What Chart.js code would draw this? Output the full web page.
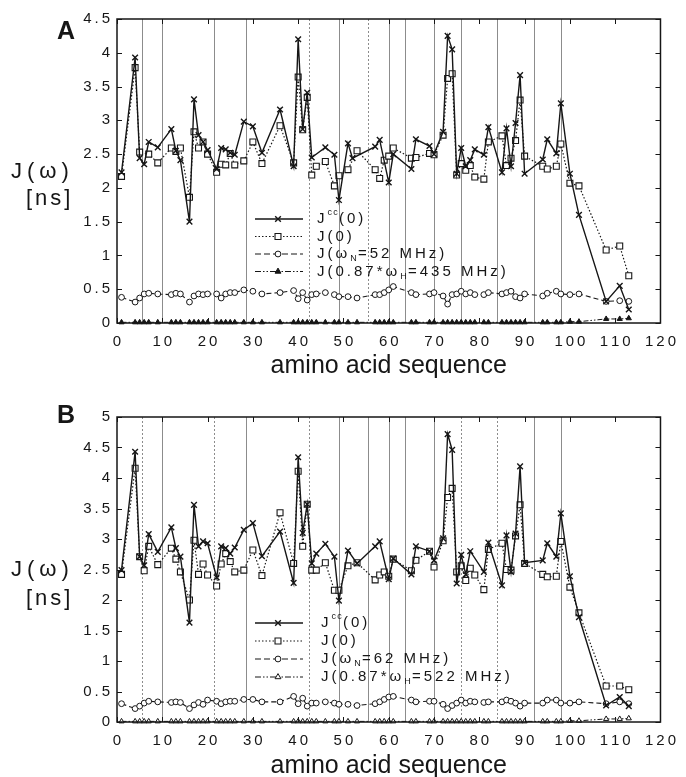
<!DOCTYPE html>
<html><head><meta charset="utf-8">
<script src="https://cdn.jsdelivr.net/npm/chart.js@4/dist/chart.umd.min.js"></script>
<style>
html,body{margin:0;padding:0;background:#fff;}
#wrap{position:relative;width:686px;height:777px;overflow:hidden;}
#pa{position:absolute;left:0;top:0;width:686px;height:390px;}
#pb{position:absolute;left:0;top:390px;width:686px;height:395px;}
</style></head><body>
<div id="wrap"><div id="pa"><canvas id="ca"></canvas></div><div id="pb"><canvas id="cb"></canvas></div></div>
<script>
// ---------- DATA ----------
const xTickValues = [0,10,20,30,40,50,60,70,80,90,100,110,120];
const yTicksA = [0,0.5,1,1.5,2,2.5,3,3.5,4,4.5];
const yTicksB = [0,0.5,1,1.5,2,2.5,3,3.5,4,4.5,5];

const residuesA = [1,4,5,6,7,9,12,13,14,16,
  17,18,19,20,22,23,24,25,26,28,
  30,32,36,39,40,41,42,43,44,46,
  48,49,51,52,53,57,58,59,60,61,
  65,66,69,70,72,73,74,75,76,77,
  78,79,81,82,85,86,87,88,89,90,
  94,95,97,98,100,102,108,111,113];
const jccA = [2.23,3.93,2.44,2.35,2.68,2.60,2.87,2.55,2.41,1.50,
  3.31,2.78,2.68,2.56,2.28,2.59,2.57,2.52,2.49,2.98,
  2.91,2.52,3.16,2.32,4.20,2.87,3.41,2.45,null,2.60,
  2.49,1.82,2.66,2.44,null,2.61,2.71,null,2.08,2.50,
  2.28,2.72,2.62,2.50,2.83,4.25,4.05,2.21,2.59,2.32,
  2.41,2.57,2.49,2.90,2.23,2.88,2.32,2.96,3.67,2.21,
  2.42,2.72,2.51,3.25,2.21,1.60,0.32,0.55,0.20];
const j0A = [2.17,3.78,2.53,null,2.50,2.37,2.59,2.54,2.59,1.86,
  2.83,2.59,2.68,2.50,2.23,2.35,2.34,2.51,2.34,2.40,
  2.68,2.36,2.92,2.37,3.64,2.86,3.34,2.19,2.32,2.39,
  2.03,2.18,2.27,null,2.55,2.27,2.14,2.41,2.47,2.59,
  2.44,2.45,2.51,2.49,2.78,3.62,3.69,2.19,2.36,2.26,
  2.33,2.16,2.13,2.68,2.77,2.33,2.44,2.70,3.30,2.47,
  2.32,2.28,2.32,2.65,2.07,2.03,1.08,1.14,0.70];
const jNA = [0.38,0.31,0.37,0.43,0.44,0.43,0.42,0.44,0.43,0.31,
  0.40,0.43,0.42,0.43,0.43,0.37,0.43,0.45,0.45,0.49,
  0.47,0.43,0.45,0.48,0.36,0.45,0.34,0.42,0.43,0.45,
  0.42,0.39,0.39,null,0.37,0.42,0.42,0.45,0.49,0.54,
  0.45,0.42,0.43,0.45,0.40,0.28,0.42,0.43,0.47,0.43,
  0.45,0.42,0.42,0.45,0.43,0.45,0.47,0.39,0.37,0.43,
  0.40,0.44,0.47,0.43,0.42,0.43,0.32,0.33,0.32];
const jHA = [0.01,0.01,0.01,0.01,0.01,0.01,0.01,0.01,0.01,0.01,
  0.01,0.01,0.01,0.01,0.01,0.01,0.01,0.01,0.01,0.01,
  0.01,0.01,0.01,0.01,0.01,0.01,0.01,0.01,0.01,0.01,
  0.01,0.01,0.01,null,0.01,0.01,0.01,0.01,0.01,0.01,
  0.01,0.01,0.01,0.01,0.01,0.01,0.01,0.01,0.01,0.01,
  0.01,0.01,0.01,0.01,0.01,0.01,0.01,0.01,0.01,0.01,
  0.01,0.01,0.01,0.01,0.02,0.02,0.06,0.06,0.07];

const residuesB = [1,4,5,6,7,9,12,13,14,16,
  17,18,19,20,22,23,24,25,26,28,
  30,32,36,39,40,41,42,43,44,46,
  48,49,51,53,57,58,59,60,61,65,
  66,69,70,72,73,74,75,76,77,78,
  79,81,82,85,86,87,88,89,90,94,
  95,97,98,100,102,108,111,113];
const jccB = [2.49,4.43,2.71,2.57,3.08,2.79,3.19,2.85,2.71,1.63,
  3.56,2.88,2.96,2.93,2.37,2.88,2.85,2.76,2.86,3.15,
  3.26,2.72,3.12,2.28,4.34,3.10,3.57,2.60,2.76,2.92,
  2.71,1.99,2.81,2.60,2.88,2.96,null,2.34,2.68,2.42,
  2.88,2.80,2.65,3.01,4.72,4.46,2.27,2.74,2.42,2.80,
  null,2.46,2.94,2.24,3.06,2.46,3.09,4.19,2.61,2.65,
  2.93,2.71,3.42,2.39,1.72,0.27,0.41,0.26];
const j0B = [2.42,4.16,2.71,2.48,2.88,2.58,2.85,2.67,2.46,2.00,
  2.98,2.42,2.59,2.41,2.23,2.59,2.76,2.63,2.46,2.49,
  2.82,2.40,3.43,2.60,4.11,2.88,3.57,2.49,2.49,2.61,
  2.16,2.16,2.56,2.61,2.33,2.41,2.46,2.39,2.67,2.48,
  2.65,2.80,2.54,2.97,3.68,3.83,2.46,2.56,2.32,2.52,
  2.41,2.17,2.83,2.93,2.50,2.49,3.05,3.56,2.60,2.42,
  2.38,2.39,2.96,2.21,1.79,0.59,0.59,0.53];
const jNB = [0.30,0.22,0.26,0.31,0.34,0.33,0.32,0.33,0.32,0.22,
  0.28,0.32,0.29,0.36,0.34,0.30,0.33,0.34,0.34,0.37,
  0.37,0.33,0.33,0.42,0.30,0.39,0.26,0.31,0.31,0.33,
  0.31,0.29,0.29,0.27,0.30,0.33,0.37,0.41,0.42,0.36,
  0.33,0.34,0.34,0.29,0.22,0.27,0.31,0.36,0.31,0.34,
  0.33,0.32,0.33,0.33,0.36,0.34,0.31,0.26,0.31,0.31,
  0.36,0.36,0.31,0.31,0.33,0.30,0.33,0.30];
const jHB = [0.01,0.01,0.01,0.01,0.01,0.01,0.01,0.01,0.01,0.01,
  0.01,0.01,0.01,0.01,0.01,0.01,0.01,0.01,0.01,0.01,
  0.01,0.01,0.01,0.01,0.01,0.01,0.01,0.01,0.01,0.01,
  0.01,0.01,0.01,0.01,0.01,0.01,0.01,0.01,0.01,0.01,
  0.01,0.01,0.01,0.01,0.01,0.01,0.01,0.01,0.01,0.01,
  0.01,0.01,0.01,0.01,0.01,0.01,0.01,0.01,0.01,0.01,
  0.01,0.01,0.01,0.02,0.02,0.05,0.05,0.06];

// secondary-structure boundary residues (vertical lines)
const structA = [5.5,10,21.5,28.5,42.5,49,55.5,60,63.5,70,76,84,92,98];
const dottedA = [42.5,55.5];
const structB = [5.5,10,21.5,28.5,42.5,49,55.5,60,63.5,70,76,84,92,98];
const dottedB = [5.5,21.5,42.5,76,84];

// ---------- RENDERING ----------
const FONT = '"Liberation Sans", Arial, Helvetica, sans-serif';
const INK = '#161616';
const spaced = v => String(v).split('').join('\u2009');

function drawSpaced(ctx, segs, x, y, size, spacing) {
  let cx = x;
  ctx.textBaseline = 'middle';
  ctx.textAlign = 'left';
  segs.forEach(seg => {
    const small = seg.sub || seg.sup;
    const fs = small ? Math.round(size * 0.6) : size;
    const dy = seg.sub ? size * 0.33 : seg.sup ? -size * 0.4 : 0;
    ctx.font = fs + 'px ' + FONT;
    for (const ch of seg.t) {
      ctx.fillText(ch, cx, y + dy);
      cx += ctx.measureText(ch).width + (small ? spacing * 0.4 : spacing);
    }
  });
}

const decor = {
  id: 'decor',
  beforeDatasetsDraw(chart, args, o) {
    const {ctx, chartArea: a, scales: {x}} = chart;
    ctx.save();
    ctx.beginPath(); ctx.rect(a.left, a.top, a.right - a.left, a.bottom - a.top); ctx.clip();
    ctx.strokeStyle = '#8c8c8c'; ctx.lineWidth = 1;
    o.structure.forEach(s => {
      const px = Math.round(x.getPixelForValue(s)) + 0.5;
      ctx.setLineDash(o.dotted.includes(s) ? [2, 2] : []);
      ctx.beginPath(); ctx.moveTo(px, a.top); ctx.lineTo(px, a.bottom); ctx.stroke();
    });
    ctx.restore();
  },
  afterDraw(chart, args, o) {
    const {ctx, chartArea: a, scales: {x, y}} = chart;
    ctx.save();
    ctx.strokeStyle = INK; ctx.lineWidth = 1.5; ctx.setLineDash([]);
    ctx.strokeRect(a.left, a.top, a.right - a.left, a.bottom - a.top);
    ctx.lineWidth = 1;
    const tl = 5;
    x.ticks.forEach(t => {
      const px = Math.round(x.getPixelForValue(t.value)) + 0.5;
      ctx.beginPath();
      ctx.moveTo(px, a.bottom); ctx.lineTo(px, a.bottom - tl);
      ctx.moveTo(px, a.top); ctx.lineTo(px, a.top + tl);
      ctx.stroke();
    });
    y.ticks.forEach(t => {
      const py = Math.round(y.getPixelForValue(t.value)) + 0.5;
      ctx.beginPath();
      ctx.moveTo(a.left, py); ctx.lineTo(a.left + tl, py);
      ctx.moveTo(a.right, py); ctx.lineTo(a.right - tl, py);
      ctx.stroke();
    });
    ctx.fillStyle = INK;
    o.legend.forEach((e, i) => {
      const ly = o.legY + i * o.legDy;
      ctx.save();
      ctx.strokeStyle = INK; ctx.lineWidth = e.width; ctx.setLineDash(e.dash);
      ctx.beginPath(); ctx.moveTo(o.legX1, ly); ctx.lineTo(o.legX2, ly); ctx.stroke();
      ctx.setLineDash([]);
      ctx.lineWidth = e.pw;
      ctx.fillStyle = e.fill; ctx.strokeStyle = INK;
      Chart.helpers.drawPoint(ctx, {pointStyle: e.style, radius: e.r, borderWidth: e.pw, rotation: 0}, o.legXm, ly);
      ctx.restore();
      ctx.fillStyle = INK;
      drawSpaced(ctx, e.segs, o.legText, ly, 15, 3);
    });
    drawSpaced(ctx, [{t: 'J(ω)'}], 11, o.yt1, 22, 5);
    drawSpaced(ctx, [{t: '[ns]'}], 26, o.yt2, 22, 3);
    ctx.font = 'bold 25px ' + FONT;
    ctx.textBaseline = 'alphabetic'; ctx.textAlign = 'left';
    ctx.fillText(o.letter, 57, o.letterY);
    ctx.restore();
  }
};

function legendEntries(nLabel, hLabel, triFill) {
  return [
    {segs: [{t: 'J'}, {t: 'cc', sup: true}, {t: '(0)'}], dash: [], width: 1.5, style: 'crossRot', r: 4, pw: 1.4, fill: INK},
    {segs: [{t: 'J(0)'}], dash: [1.5, 2], width: 1.2, style: 'rect', r: 4.2, pw: 1.1, fill: '#fff'},
    {segs: [{t: 'J(ω'}, {t: 'N', sub: true}, {t: nLabel}], dash: [6, 3], width: 1.1, style: 'circle', r: 2.9, pw: 1, fill: '#fff'},
    {segs: [{t: 'J(0.87*ω'}, {t: 'H', sub: true}, {t: hLabel}], dash: [6, 2, 1.5, 2, 1.5, 2], width: 1, style: 'triangle', r: 3.4, pw: 1, fill: triFill}
  ];
}

function build(id, c) {
  const mk = vals => c.residues.map((r, i) => ({x: r, y: vals[i]}));
  const base = {spanGaps: true, tension: 0, fill: false, clip: 8, borderColor: INK, pointBorderColor: INK};
  const datasets = [
    Object.assign({label: 'Jcc(0)', data: mk(c.jcc), borderWidth: 1.4, pointStyle: 'crossRot', pointRadius: 4, pointBorderWidth: 1.4, pointBackgroundColor: INK}, base),
    Object.assign({label: 'J(0)', data: mk(c.j0), borderWidth: 1.2, borderDash: [1.5, 2], pointStyle: 'rect', pointRadius: 4.2, pointBorderWidth: 1.1, pointBackgroundColor: '#fff'}, base),
    Object.assign({label: 'J(wN)', data: mk(c.jN), borderWidth: 1.1, borderDash: [5, 3], pointStyle: 'circle', pointRadius: 2.9, pointBorderWidth: 1, pointBackgroundColor: '#fff'}, base),
    Object.assign({label: 'J(wH)', data: mk(c.jH), borderWidth: 1, borderDash: [5, 2, 1.5, 2, 1.5, 2], pointStyle: 'triangle', pointRadius: 3, pointBorderWidth: 1, pointBackgroundColor: c.triFill}, base)
  ];
  return new Chart(document.getElementById(id), {
    type: 'line',
    data: {datasets},
    plugins: [decor],
    options: {
      responsive: true, maintainAspectRatio: false, animation: false, events: [],
      layout: {padding: {top: c.padTop, right: 17, bottom: c.padBottom, left: 0}},
      plugins: {
        legend: {display: false}, tooltip: {enabled: false},
        decor: {structure: c.structure, dotted: c.dotted, legend: c.legend,
          legY: c.legY, legDy: c.legDy, legX1: 255, legX2: 303, legXm: 278, legText: c.legText,
          yt1: c.yt1, yt2: c.yt2, letter: c.letter, letterY: c.letterY}
      },
      scales: {
        x: {
          type: 'linear', min: 0, max: 120,
          afterBuildTicks: s => { s.ticks = xTickValues.map(v => ({value: v})); },
          afterFit: s => { s.height = c.xAxisH; },
          grid: {display: false, drawTicks: false}, border: {display: false},
          ticks: {autoSkip: false, maxRotation: 0, padding: 10, color: INK, font: {size: 15, family: FONT}, callback: v => spaced(v)},
          title: {display: true, text: 'amino acid sequence', color: INK, font: {size: 25, family: FONT}, padding: {top: 0, bottom: 0}}
        },
        y: {
          type: 'linear', min: 0, max: c.yMax,
          afterBuildTicks: s => { s.ticks = c.yTicks.map(v => ({value: v})); },
          afterFit: s => { s.width = 117; },
          grid: {display: false, drawTicks: false}, border: {display: false},
          ticks: {padding: 7, color: INK, font: {size: 15, family: FONT}, callback: v => spaced(v)}
        }
      }
    }
  });
}

build('ca', {
  residues: residuesA, jcc: jccA, j0: j0A, jN: jNA, jH: jHA, triFill: INK,
  yMax: 4.5, yTicks: yTicksA, structure: structA, dotted: dottedA,
  padTop: 19, padBottom: 9, xAxisH: 58,
  legend: legendEntries('=52 MHz)', '=435 MHz)', INK), legY: 219, legDy: 17.5, legText: 317,
  yt1: 172, yt2: 199, letter: 'A', letterY: 39
});
build('cb', {
  residues: residuesB, jcc: jccB, j0: j0B, jN: jNB, jH: jHB, triFill: '#fff',
  yMax: 5, yTicks: yTicksB, structure: structB, dotted: dottedB,
  padTop: 27, padBottom: 4, xAxisH: 59,
  legend: legendEntries('=62 MHz)', '=522 MHz)', '#fff'), legY: 233, legDy: 18, legText: 321,
  yt1: 180, yt2: 209, letter: 'B', letterY: 33
});
</script>
</body></html>
